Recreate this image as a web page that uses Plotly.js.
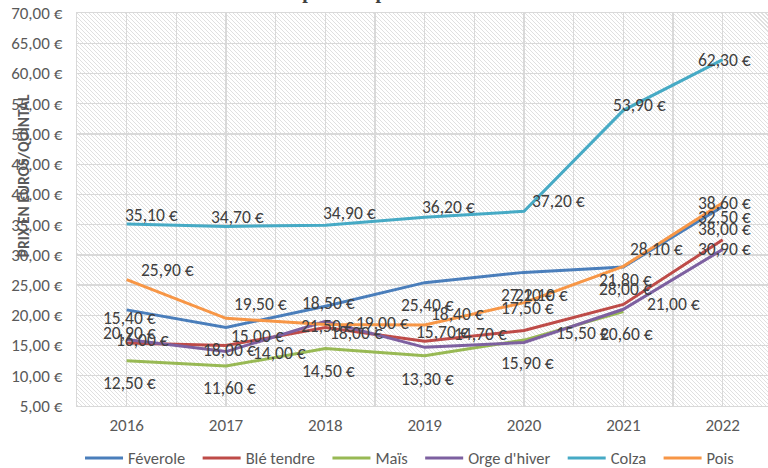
<!DOCTYPE html>
<html>
<head>
<meta charset="utf-8">
<script src="https://cdn.plot.ly/plotly-3.0.1.min.js"></script>
<style>
html,body{margin:0;padding:0;background:#fff;}
#wrap{position:relative;width:768px;height:468px;overflow:hidden;}
#hatch{position:absolute;left:77px;top:13px;width:691px;height:393px;
  background-color:#fff;
  background-image:repeating-linear-gradient(45deg,#e0e0e0 0px,#e0e0e0 1px,rgba(255,255,255,0) 1px,rgba(255,255,255,0) 2.83px);}
#chart{position:absolute;left:0;top:0;width:768px;height:468px;}
</style>
</head>
<body>
<div id="wrap"><div id="hatch"></div><div id="chart"></div></div>
<script>
// ---- Data ----
const years = [2016, 2017, 2018, 2019, 2020, 2021, 2022];
const feverole = [20.9, 18.0, 21.5, 25.4, 27.1, 28.0, 38.0];
const bleTendre = [15.4, 15.0, 18.0, 15.7, 17.5, 21.8, 32.5];
const mais = [12.5, 11.6, 14.5, 13.3, 15.9, 20.6, null];
const orgeHiver = [16.0, 14.0, 19.0, 14.7, 15.5, 21.0, 30.9];
const colza = [35.1, 34.7, 34.9, 36.2, 37.2, 53.9, 62.3];
const pois = [25.9, 19.5, 18.5, 18.4, 22.1, 28.1, 38.6];
const seriesNames = ["Féverole", "Blé tendre", "Maïs", "Orge d'hiver", "Colza", "Pois"];
const yTicks = [5, 10, 15, 20, 25, 30, 35, 40, 45, 50, 55, 60, 65, 70];
const yTickText = ["5,00 €", "10,00 €", "15,00 €", "20,00 €", "25,00 €", "30,00 €", "35,00 €",
  "40,00 €", "45,00 €", "50,00 €", "55,00 €", "60,00 €", "65,00 €", "70,00 €"];

// ---- Styles ----
const colors = ["#4a7ebb", "#be4b48", "#98b954", "#7d60a0", "#46aac5", "#f79646"];
const seriesValues = [feverole, bleTendre, mais, orgeHiver, colza, pois];
// data label offsets in pixels [dx, dy(down)]
const labelOffsets = [
  [[3,23],[3,23],[2,20],[3,22],[3,23],[2,22],[2,23]],
  [[3,-25],[31,-10],[31,6],[18,-9],[3,-22],[2,-24],[2,-23]],
  [[3,22],[3,22],[3,22],[3,23],[3,23],[3,22],[0,0]],
  [[16,1],[53,1],[57,2],[56,-13],[58,-10],[50,-5],[2,0]],
  [[25,-9],[11,-9],[24,-12],[24,-10],[34,-10],[16,-5],[2,0]],
  [[41,-10],[34,-14],[3,-21],[33,-11],[17,-8],[33,-17],[2,0]]
];
const FONT = "Carlito, Calibri, 'Liberation Sans', Arial, sans-serif";
const fmt = v => v.toFixed(2).replace('.', ',') + ' €';
const legendPad = '\u00a0\u00a0';

const traces = seriesValues.map((vals, i) => ({
  type: 'scatter', mode: 'lines', name: seriesNames[i] + legendPad,
  x: years, y: vals, connectgaps: false,
  line: {color: colors[i], width: 3},
  hoverinfo: 'skip'
}));

const annotations = [];
seriesValues.forEach((vals, i) => {
  vals.forEach((v, j) => {
    if (v === null) return;
    const off = labelOffsets[i][j];
    annotations.push({
      x: years[j], y: v, xref: 'x', yref: 'y', text: fmt(v), showarrow: false,
      xshift: off[0], yshift: -off[1], xanchor: 'center', yanchor: 'middle',
      font: {family: FONT, size: 17.5, color: '#404040'}
    });
  });
});
// y axis title
annotations.push({
  xref: 'paper', yref: 'paper', x: -0.078, y: 0.585, xanchor: 'center', yanchor: 'middle',
  text: '<b>PRIX EN EUROS/QUINTAL</b>', textangle: -90, showarrow: false,
  font: {family: FONT, size: 15.5, color: '#595959'}
});
// chart title (cut at top of the picture)
annotations.push({
  xref: 'paper', yref: 'paper', x: 0.147, y: 1.0, yshift: 8, xanchor: 'left', yanchor: 'bottom',
  text: '<b>Évolution des prix des productions</b>', showarrow: false,
  font: {family: "'Liberation Serif', 'DejaVu Serif', serif", size: 20, color: '#404040'}
});

const layout = {
  width: 768, height: 468,
  margin: {l: 77, r: 0, t: 13, b: 62, autoexpand: false},
  paper_bgcolor: 'rgba(0,0,0,0)', plot_bgcolor: 'rgba(0,0,0,0)',
  showlegend: true,
  legend: {orientation: 'h', x: 0.487, xanchor: 'center', yref: 'container', y: 0.021, yanchor: 'middle',
           font: {family: FONT, size: 16.5, color: '#595959'}, itemwidth: 38, tracegroupgap: 0,
           bgcolor: 'rgba(0,0,0,0)'},
  xaxis: {
    type: 'linear', range: [2015.5, 2022.456], tickmode: 'array', tickvals: years,
    ticktext: years.map(String), showgrid: true, gridcolor: '#d9d9d9', gridwidth: 1.3,
    minor: {dtick: 0.5, tick0: 2015.5, showgrid: true, gridcolor: '#d9d9d9', gridwidth: 1.3},
    zeroline: false, showline: true, linecolor: '#d9d9d9', linewidth: 1.3, mirror: true,
    ticks: '', ticklabelstandoff: 3, automargin: false,
    tickfont: {family: FONT, size: 17, color: '#595959'}, fixedrange: true
  },
  yaxis: {
    range: [5, 70], tickmode: 'array', tickvals: yTicks, ticktext: yTickText,
    showgrid: true, gridcolor: '#d9d9d9', gridwidth: 1.3, zeroline: false,
    showline: true, linecolor: '#d9d9d9', linewidth: 1.3, mirror: true,
    ticks: '', ticklabelstandoff: 10, automargin: false,
    tickfont: {family: FONT, size: 17, color: '#595959'}, fixedrange: true
  },
  annotations: annotations
};

Plotly.newPlot('chart', traces, layout, {displayModeBar: false, staticPlot: true});
</script>
</body>
</html>
